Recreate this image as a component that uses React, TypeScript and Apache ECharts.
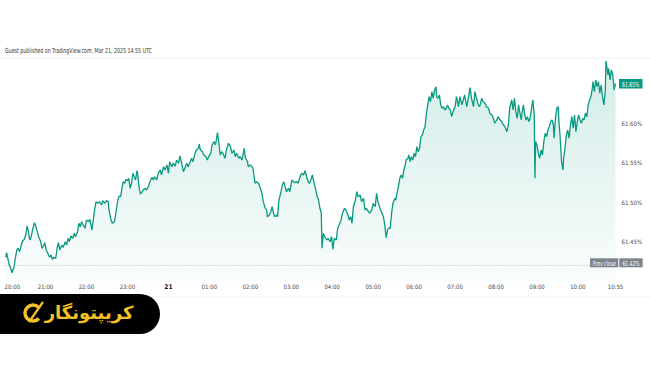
import React, { useEffect, useRef } from "react";
import * as echarts from "echarts";

// minutes after 20:00 (Mar 20, UTC) and the yield in %
const minutes = [
  2, 3, 5, 7, 9, 11, 14, 16, 18, 20,
  22, 24, 26, 27, 29, 31, 33, 35, 37, 39,
  41, 44, 46, 48, 50, 53, 55, 57, 59, 61,
  63, 66, 68, 70, 72, 75, 77, 79, 81, 84,
  86, 89, 91, 93, 95, 97, 100, 102, 104, 107,
  109, 111, 113, 115, 118, 120, 123, 125, 128, 130,
  132, 134, 137, 139, 142, 144, 147, 149, 152, 153,
  156, 158, 161, 163, 166, 168, 170, 172,
  174, 176, 178, 180, 182, 184, 186, 188, 190, 192, 194, 195,
  197, 199, 201, 203, 206, 208, 211, 213, 216, 218,
  220, 223, 225, 228, 230, 233, 235, 238, 240, 242,
  245, 247, 250, 252, 255, 257, 259, 262, 264, 267,
  269, 272, 274, 276, 279, 281, 284, 285, 287, 290,
  292, 295, 297, 299, 302, 304, 307, 309, 312, 314,
  316, 318, 320, 323, 325, 328, 331, 333, 336, 338,
  340, 343, 345, 348, 351, 353, 356,
  357, 360, 362, 364, 367, 369, 372, 374, 377, 379, 382, 384, 385,
  388, 390, 392, 394, 396, 399, 400, 402, 405, 407,
  409, 411, 413, 416, 418, 421, 423, 425, 428, 430,
  433, 435, 438, 440, 442, 443, 446, 448, 451, 453,
  456, 458, 460, 462, 464, 465, 467, 469, 472, 474,
  477, 479, 481, 483, 486, 488, 490, 493, 495, 498,
  500, 503, 505, 507, 509, 511, 514, 516, 518, 521,
  523, 526, 528, 530, 533,
  535, 538, 540, 543, 545, 547, 550, 552, 555, 557,
  559, 561, 563, 565, 567, 569, 572, 573, 575, 577,
  579, 581, 583, 585, 587, 588, 591, 592, 594, 596,
  598, 600, 602, 604, 606, 608, 610, 612, 614, 616,
  618, 620, 622, 624, 626, 628, 630, 632, 633, 635,
  637, 639, 641, 643, 645, 647, 649, 651, 653, 655,
  657, 660, 662, 665, 667, 670, 672, 674, 677, 679,
  682, 684, 687, 689, 692, 694, 696, 699, 701,
  704, 706, 709, 711, 714, 716, 718, 721, 723, 726,
  728, 731, 733, 736, 738, 740, 743, 745, 747, 749,
  751, 753, 755, 757, 758, 760, 762, 764, 766, 768, 770,
  772, 774, 776, 777, 778, 780, 782, 784, 786, 788,
  790, 792, 794, 796, 798, 800, 802, 804, 805, 807,
  809, 811, 812, 814, 816, 818, 819, 821, 823, 825,
  827, 829, 831, 833, 835, 837, 839, 841, 843, 845,
  847, 849, 851, 853, 855, 857, 859, 861, 862, 864,
  866, 868, 870, 872, 874, 876, 878, 880, 881, 884,
  885, 887, 889, 891, 893, 895,
];

const values = [
  61.4304, 61.4362, 61.4282, 61.4206, 61.4165, 61.4109, 61.4185, 61.4304, 61.4396, 61.4418,
  61.4375, 61.4438, 61.4501, 61.4514, 61.4532, 61.4586, 61.47, 61.4628, 61.4523, 61.4565,
  61.4649, 61.4742, 61.4691, 61.4628, 61.4565, 61.4501, 61.4418, 61.4447, 61.4489, 61.4396,
  61.4362, 61.4304, 61.4333, 61.4278, 61.4304, 61.4291, 61.4418, 61.4489, 61.4396, 61.4459,
  61.443, 61.4501, 61.4459, 61.4544, 61.4501, 61.4573, 61.4544, 61.4608, 61.4565, 61.4628,
  61.4734, 61.4691, 61.4754, 61.4713, 61.4671, 61.4776, 61.4754, 61.4785, 61.4649, 61.4776,
  61.4911, 61.5008, 61.4987, 61.5008, 61.4966, 61.502, 61.4987, 61.502, 61.5008, 61.4903,
  61.4776, 61.4734, 61.4754, 61.4861, 61.5029, 61.508, 61.5071, 61.5177,
  61.5261, 61.5241, 61.5291, 61.5273, 61.5304, 61.5177, 61.5241, 61.5367, 61.5324, 61.5282, 61.54, 61.5367,
  61.5197, 61.5105, 61.5122, 61.5156, 61.5177, 61.5156, 61.5206, 61.5261, 61.5316, 61.5282,
  61.5324, 61.5282, 61.5367, 61.5409, 61.5346, 61.5451, 61.5409, 61.5472, 61.5367, 61.5514,
  61.5451, 61.5494, 61.5459, 61.5535, 61.5494, 61.5586, 61.5514, 61.5387, 61.543, 61.5494,
  61.5451, 61.5514, 61.5557, 61.5514, 61.562, 61.5662, 61.5684, 61.5738, 61.5662, 61.564,
  61.5599, 61.5577, 61.5535, 61.5577, 61.562, 61.5725, 61.5767, 61.5725, 61.5881, 61.5747,
  61.5599, 61.564, 61.562, 61.5557, 61.5662, 61.5747, 61.5704, 61.562, 61.5662, 61.5577,
  61.562, 61.5557, 61.5577, 61.5535, 61.5684, 61.5557, 61.5514,
  61.5451, 61.5472, 61.5459, 61.543, 61.5241, 61.5261, 61.5241, 61.5197, 61.5114, 61.5008, 61.4924, 61.4903, 61.4818,
  61.4839, 61.4881, 61.4944, 61.4861, 61.4818, 61.4839, 61.4818, 61.5029, 61.5134, 61.5219,
  61.5261, 61.5197, 61.5134, 61.5177, 61.5134, 61.5282, 61.5261, 61.5248, 61.5261, 61.5241,
  61.5324, 61.5367, 61.5346, 61.54, 61.5346, 61.5304, 61.5241, 61.5261, 61.5346, 61.5261,
  61.5156, 61.5071, 61.5029, 61.4924, 61.4861, 61.4418, 61.4608, 61.4565, 61.4523, 61.4544,
  61.4501, 61.4565, 61.4405, 61.4544, 61.4523, 61.4671, 61.4713, 61.4776, 61.4861, 61.4924,
  61.4903, 61.4839, 61.4776, 61.4818, 61.4734, 61.4944, 61.5029, 61.5134, 61.5071, 61.5092,
  61.5008, 61.5051, 61.4903, 61.4924, 61.4881,
  61.4861, 61.4903, 61.4987, 61.4944, 61.5114, 61.5008, 61.4924, 61.4881, 61.4818, 61.4713,
  61.4552, 61.4649, 61.4678, 61.4671, 61.4861, 61.4987, 61.5051, 61.5029, 61.5114, 61.5197,
  61.5304, 61.5346, 61.5304, 61.5409, 61.5472, 61.5535, 61.5557, 61.5599, 61.5514, 61.5577,
  61.5535, 61.562, 61.5577, 61.5704, 61.564, 61.5684, 61.583, 61.5852, 61.5915, 61.5957,
  61.6127, 61.6232, 61.6337, 61.6273, 61.64, 61.6316, 61.6422, 61.6463, 61.6337, 61.6316,
  61.6358, 61.6232, 61.619, 61.621, 61.6168, 61.619, 61.6232, 61.619, 61.6168, 61.6084,
  61.6147, 61.621, 61.6337, 61.621, 61.6337, 61.6232, 61.6295, 61.6358, 61.621, 61.6295,
  61.6451, 61.6316, 61.621, 61.64, 61.6295, 61.6232, 61.621, 61.6316, 61.6273,
  61.6253, 61.621, 61.619, 61.6127, 61.6105, 61.6063, 61.6, 61.6042, 61.6084, 61.6042,
  61.602, 61.5978, 61.5957, 61.5894, 61.5978, 61.619, 61.6295, 61.6168, 61.6316, 61.6147,
  61.6063, 61.6232, 61.6127, 61.6042, 61.6127, 61.6232, 61.6105, 61.6042, 61.6084, 61.602, 61.6063,
  61.619, 61.6295, 61.6105, 61.5304, 61.5767, 61.5725, 61.562, 61.5557, 61.5662, 61.5599,
  61.5767, 61.5873, 61.583, 61.5915, 61.5957, 61.602, 61.6042, 61.5978, 61.581, 61.6063,
  61.619, 61.621, 61.6042, 61.581, 61.5514, 61.5409, 61.5557, 61.5684, 61.5852, 61.5915,
  61.581, 61.5978, 61.6084, 61.5937, 61.6105, 61.5894, 61.602, 61.6105, 61.6042, 61.6,
  61.6063, 61.6042, 61.6127, 61.6084, 61.6232, 61.6295, 61.6337, 61.6443, 61.6527, 61.64,
  61.6548, 61.6463, 61.6527, 61.638, 61.6485, 61.6337, 61.6232, 61.64, 61.6789, 61.6611,
  61.6696, 61.6548, 61.6675, 61.6611, 61.6422, 61.6506,
];

const prevClose = 61.4215;
const yTickValues = [61.45, 61.5, 61.55, 61.6];
const headerText = "Guest published on TradingView.com, Mar 21, 2025 14:55 UTC";
const dayLabel = "21";
const logoText = "کریپتونگار";

const SMALL_FONT = '"Liberation Sans Narrow", "DejaVu Sans Condensed", "Liberation Sans", sans-serif';

function fmtTime(m: number): string {
  const total = Math.round(m);
  const h = (20 + Math.floor(total / 60)) % 24;
  const mm = total % 60;
  if (h === 0 && mm === 0) return "{d|" + dayLabel + "}";
  return String(h).padStart(2, "0") + ":" + String(mm).padStart(2, "0");
}

export default function App() {
  const ref = useRef<HTMLDivElement>(null);

  useEffect(() => {
    if (!ref.current) return;
    const chart = echarts.init(ref.current, null, { renderer: "svg" });
    const n = Math.min(minutes.length, values.length);
    const data = [] as [number, number][];
    for (let i = 0; i < n; i++) data.push([minutes[i], values[i]]);
    const lastValue = values[n - 1];

    chart.setOption({
      animation: false,
      backgroundColor: "#ffffff",
      grid: { left: 4.54, right: 34.5, top: 58.1, bottom: 83.7, containLabel: false, outerBoundsMode: "none" },
      xAxis: {
        type: "value",
        min: 0,
        max: 895,
        interval: 60,
        axisLine: { show: false },
        axisTick: { show: false },
        splitLine: { show: false },
        axisLabel: {
          margin: 2.5,
          fontSize: 6,
          fontFamily: SMALL_FONT,
          color: "#4a4a4a",
          alignMinLabel: "left",
          formatter: (v: number) => fmtTime(v),
          rich: { d: { fontSize: 6.5, fontWeight: "bold", color: "#131722", fontFamily: SMALL_FONT } },
        },
      },
      yAxis: {
        type: "value",
        position: "right",
        min: 61.4,
        max: 61.6825,
        interval: 0.05,
        axisLine: { show: false },
        axisTick: { show: false },
        splitLine: { show: false },
        axisLabel: {
          margin: 6,
          fontSize: 6,
          fontFamily: SMALL_FONT,
          color: "#4a4a4a",
          showMinLabel: false,
          showMaxLabel: false,
          formatter: (v: number) =>
            yTickValues.some((t) => Math.abs(t - v) < 1e-6) ? v.toFixed(2) + "%" : "",
        },
      },
      series: [
        {
          type: "line",
          data,
          showSymbol: false,
          symbol: "none",
          lineStyle: { color: "#089981", width: 1.3 },
          areaStyle: {
            color: new echarts.graphic.LinearGradient(0, 0, 0, 1, [
              { offset: 0, color: "rgba(8,153,129,0.26)" },
              { offset: 1, color: "rgba(8,153,129,0.03)" },
            ]),
          },
          markLine: {
            silent: true,
            symbol: "none",
            label: { show: false },
            lineStyle: { type: [1, 2], color: "#b7b9c0", width: 1 },
            data: [{ yAxis: prevClose }],
          },
        },
      ],
    });

    const yLast = chart.convertToPixel({ yAxisIndex: 0 }, lastValue) as number;
    const yPrev = chart.convertToPixel({ yAxisIndex: 0 }, prevClose) as number;
    const gold = "#f4c025";
    const badgeText = (text: string, x: number, y: number) => ({
      type: "text",
      x,
      y,
      scaleX: 0.72,
      style: { text, fontSize: 7, fontFamily: SMALL_FONT, fill: "#ffffff", textAlign: "center", textVerticalAlign: "middle" },
    });

    chart.setOption({
      graphic: [
        { type: "line", shape: { x1: 0, y1: 58, x2: 650, y2: 58 }, style: { stroke: "#efefef", lineWidth: 1 } },
        { type: "line", shape: { x1: 0, y1: 297, x2: 650, y2: 297 }, style: { stroke: "#f0f0f0", lineWidth: 1 } },
        {
          type: "text",
          x: 5,
          y: 50,
          scaleX: 0.75,
          style: { text: headerText, fontSize: 7, fontFamily: SMALL_FONT, fill: "#333333", textVerticalAlign: "middle" },
        },
        // current value badge
        { type: "rect", shape: { x: 619, y: yLast - 4.3, width: 23.5, height: 9.5 }, style: { fill: "#089981" } },
        badgeText(lastValue.toFixed(2) + "%", 630.7, yLast + 0.5),
        // prev close badges
        { type: "rect", shape: { x: 590, y: yPrev - 6, width: 28.3, height: 9 }, style: { fill: "#80838c" } },
        badgeText("Prev close", 604.2, yPrev - 1.5),
        { type: "rect", shape: { x: 619.3, y: yPrev - 6, width: 23.4, height: 9 }, style: { fill: "#80838c" } },
        badgeText(prevClose.toFixed(2) + "%", 631, yPrev - 1.5),
        // logo
        { type: "rect", shape: { x: 0, y: 294, width: 160, height: 40, r: [0, 20, 20, 0] }, style: { fill: "#000000" } },
        {
          type: "arc",
          shape: { cx: 33, cy: 313, r: 8, startAngle: 0.75, endAngle: 5.55, clockwise: true },
          style: { stroke: gold, lineWidth: 3.5, fill: "none" },
        },
        { type: "line", shape: { x1: 29, y1: 322, x2: 43, y2: 302 }, style: { stroke: gold, lineWidth: 2.2 } },
        {
          type: "text",
          x: 89,
          y: 312,
          style: { text: logoText, fontSize: 18, fontWeight: "bold", fontFamily: '"DejaVu Sans", sans-serif', fill: gold, textAlign: "center", textVerticalAlign: "middle" },
        },
      ],
    });

    return () => chart.dispose();
  }, []);

  return (
    <div
      ref={ref}
      style={{ position: "fixed", left: 0, top: 0, width: 650, height: 365, background: "#ffffff" }}
    />
  );
}
